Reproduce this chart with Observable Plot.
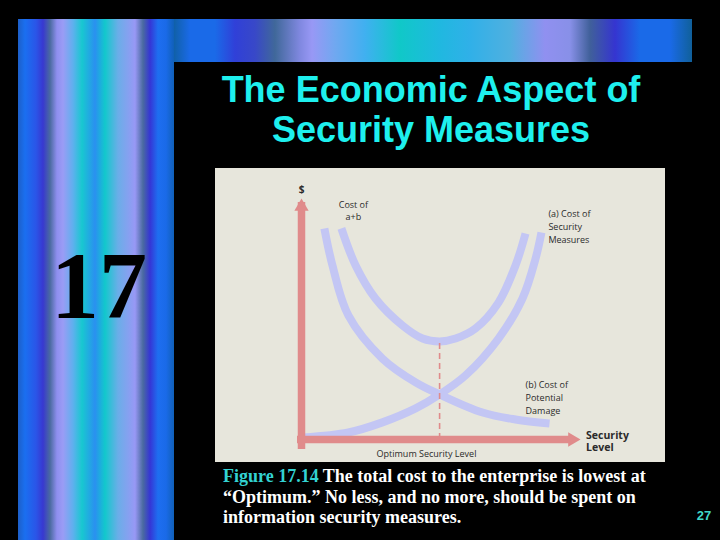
<!DOCTYPE html>
<html>
<head>
<meta charset="utf-8">
<script src="https://cdn.jsdelivr.net/npm/d3@7"></script>
<script src="https://cdn.jsdelivr.net/npm/@observablehq/plot@0.6"></script>
<style>
  html, body { margin: 0; padding: 0; background: #000; }
  #slide { position: relative; width: 720px; height: 540px; background: #000; overflow: hidden; }
  #leftbar { position: absolute; left: 18px; top: 19px; width: 156px; height: 521px;
    background: linear-gradient(to right,
      #1d5fc8 0px, #1a6ff0 7px, #2a55e8 18px, #3838d0 25px, #4a6aa0 32px, #8f8ff0 39px,
      #9a9cf5 45px, #5fb0ee 55px, #18c8d0 64px, #2a90f0 77px, #12c8cc 87px, #6aaee8 100px,
      #9898f5 117px, #4a6aa0 125px, #3535d5 132px, #1e6ef0 140px, #1a6ae8 148px, #1060b8 156px); }
  #topbar { position: absolute; left: 174px; top: 19px; width: 518px; height: 43px;
    background: linear-gradient(to right,
      #1060a8 0px, #1a6ae8 16px, #1a6ae8 41px, #3040d8 61px, #3848c8 81px, #40689a 101px,
      #8088e0 126px, #9898f5 138px, #70a8f0 161px, #40b0f0 191px, #10c8c8 226px, #20b8e0 266px,
      #30b0e8 296px, #50b0e0 336px, #9090f0 371px, #8890e8 396px, #40609a 416px, #3535d0 441px,
      #1a6ae8 466px, #1a6ae8 496px, #10609a 518px); }
  #chapter { position: absolute; left: 24px; top: 238px; width: 150px; text-align: center;
    font-family: "Liberation Serif", "Times New Roman", serif; font-weight: bold; font-size: 96px;
    line-height: 96px; color: #000; }
  #title { position: absolute; left: 181px; top: 70px; width: 500px; text-align: center;
    font-family: "Liberation Sans", Arial, sans-serif; font-weight: bold; font-size: 36px;
    line-height: 40px; color: #1ef0ee; }
  #chart { position: absolute; left: 215px; top: 168px; width: 450px; height: 294px; }
  #caption { position: absolute; left: 223px; top: 466px; white-space: nowrap;
    font-family: "Liberation Serif", "Times New Roman", serif; font-weight: bold; font-size: 18px;
    line-height: 20.5px; color: #fff; }
  #caption .fig { color: #33d2d2; }
  #pagenum { position: absolute; left: 684px; top: 508px; width: 40px; text-align: center;
    font-family: "Liberation Sans", Arial, sans-serif; font-weight: bold; font-size: 13px;
    line-height: 16px; color: #40d8c8; }
</style>
</head>
<body>
<div id="slide">
  <div id="leftbar"></div>
  <div id="topbar"></div>
  <div id="chapter">17</div>
  <div id="title">The Economic Aspect of<br>Security Measures</div>
  <div id="chart"></div>
  <div id="caption"><span class="fig">Figure 17.14</span> The total cost to the enterprise is lowest at<br>“Optimum.” No less, and no more, should be spent on<br>information security measures.</div>
  <div id="pagenum">27</div>
</div>
<script>
// ---- data (arbitrary units) ----
const securityX = [0.07, 1.68, 2.90, 4.09, 4.95, 5.88, 7.06, 7.92, 8.39, 8.60];
const securityY = [0.08, 0.29, 0.71, 1.29, 1.87, 2.66, 4.19, 5.85, 7.51, 8.59];

const damageX = [0.82, 1.11, 1.68, 2.90, 4.09, 4.95, 6.49, 7.67, 8.89];
const damageY = [8.76, 7.22, 5.15, 3.36, 2.37, 1.87, 1.12, 0.83, 0.66];

const totalX = [1.43, 1.94, 2.65, 3.62, 4.34, 4.95, 5.52, 6.24, 7.06, 7.67, 8.03];
const totalY = [8.76, 7.22, 5.85, 4.73, 4.19, 4.07, 4.19, 4.61, 5.68, 7.22, 8.55];

const optimumX = [4.95];
const optimumY = [4.07];

const axisMax = [10];

const labelTexts = ["$", "Cost of\na+b", "(a) Cost of\nSecurity\nMeasures", "(b) Cost of\nPotential\nDamage", "Security\nLevel", "Optimum Security Level"];
const labelX = [0, 1.86, 8.85, 8.03, 10.2, 4.48];
const labelY = [10.35, 9.52, 8.86, 1.76, -0.06, -0.56];

// ---- build tables ----
const curves = [
  ...securityX.map((x, i) => ({series: "a", x, y: securityY[i]})),
  ...damageX.map((x, i) => ({series: "b", x, y: damageY[i]})),
  ...totalX.map((x, i) => ({series: "a+b", x, y: totalY[i]}))
];
const labels = labelTexts.map((t, i) => ({text: t, x: labelX[i], y: labelY[i]}));

const red = "#e08b8b";
const lav = "#c3c6f4";
const ink = "#2b2b2b";
const font = "'Open Sans', 'Noto Sans', sans-serif";

const chart = Plot.plot({
  width: 450, height: 294,
  marginLeft: 86, marginRight: 85, marginTop: 30, marginBottom: 23,
  x: {domain: [0, 10], axis: null},
  y: {domain: [0, 10], axis: null},
  style: {background: "#e7e6dc", overflow: "visible"},
  marks: [
    Plot.line(curves, {x: "x", y: "y", z: "series", stroke: lav, strokeWidth: 8,
      strokeLinecap: "butt", curve: "catmull-rom"}),
    Plot.ruleX(optimumX, {x: d => d, y1: 0, y2: optimumY[0], stroke: red, strokeWidth: 1.6,
      strokeDasharray: "6,4"}),
    // y axis
    Plot.ruleX([0], {x: d => d, y1: 0, y2: axisMax[0], stroke: red, strokeWidth: 7.5,
      insetTop: 10, insetBottom: -4}),
    Plot.dot(axisMax, {x: 0, y: d => d, symbol: "triangle", r: 5.3, fill: red, stroke: "none", dy: 8.2}),
    // x axis
    Plot.ruleY([0], {y: d => d, x1: 0, x2: axisMax[0], stroke: red, strokeWidth: 7.5,
      insetRight: 10, insetLeft: -4}),
    Plot.dot(axisMax, {x: d => d, y: 0, symbol: "triangle", rotate: 90, r: 5.3, fill: red, stroke: "none", dx: -8.2}),
    // labels
    Plot.text(labels.filter(d => d.text === "$"), {x: "x", y: "y", text: "text", fontSize: 10,
      fontWeight: "bold", fill: ink, fontFamily: font}),
    Plot.text(labels.filter(d => d.text.startsWith("Cost of") || d.text.startsWith("Optimum")), {
      x: "x", y: "y", text: "text", fontSize: 9, lineHeight: 1.35, textAnchor: "middle",
      fill: ink, fontFamily: font}),
    Plot.text(labels.filter(d => d.text.startsWith("(")), {
      x: "x", y: "y", text: "text", fontSize: 9, lineHeight: 1.45, textAnchor: "start",
      fill: ink, fontFamily: font}),
    Plot.text(labels.filter(d => d.text.startsWith("Security")), {
      x: "x", y: "y", text: "text", fontSize: 10.5, lineHeight: 1.2, textAnchor: "start",
      fontWeight: "bold", fill: ink, fontFamily: font})
  ]
});
document.getElementById("chart").appendChild(chart);
</script>
</body>
</html>
